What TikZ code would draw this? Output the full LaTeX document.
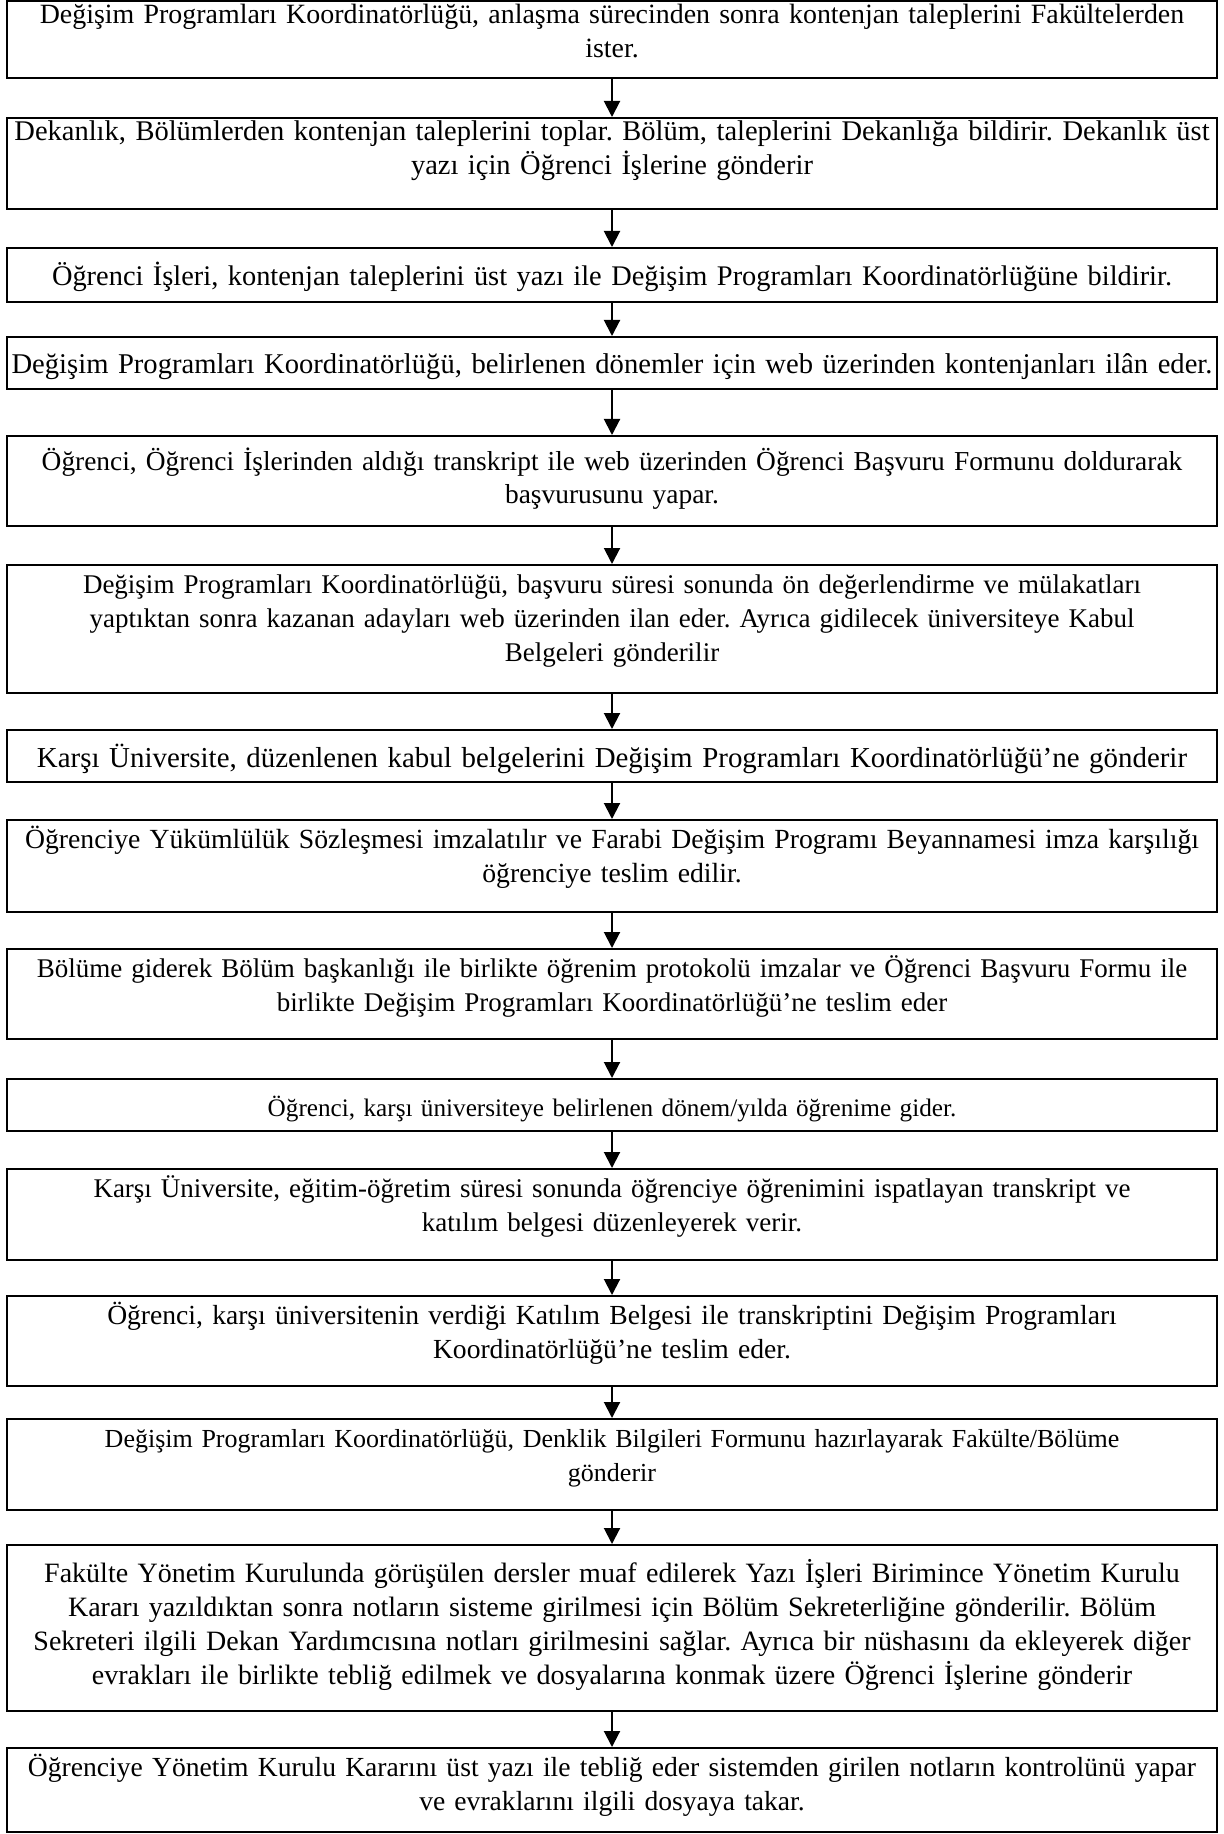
\documentclass[tikz,border=0pt]{standalone}
\usepackage{fontspec}
\setmainfont{Liberation Serif}
\usetikzlibrary{arrows.meta}
\frenchspacing
\tikzset{
  boxstyle/.style={draw=black, line width=1pt, rectangle, minimum width=605pt, inner sep=0pt, fill=white},
  txt/.style={anchor=base, text width=680pt, align=center, inner sep=0pt},
  arr/.style={line width=1pt, -{Triangle[length=8pt,width=8pt]}},
}
\newcommand\flowbox[6][13.9]{%
  \node[boxstyle, minimum height={(#4-#3)*0.5pt}] (#2) at (612,{(#3+#4)/2}) {};
  \node[txt, font=\fontsize{#1}{17}\selectfont] (#2t) at (612,#5) {#6};
}
\begin{document}
\begin{tikzpicture}[x=0.5pt,y=-0.5pt]
\useasboundingbox (0,0) rectangle (1223,1834);
\flowbox[13.95]{b1}{1}{78}{24}{Değişim Programları Koordinatörlüğü, anlaşma sürecinden sonra kontenjan taleplerini Fakültelerden\\ister.}
\flowbox[14.25]{b2}{118}{209}{141}{Dekanlık, Bölümlerden kontenjan taleplerini toplar. Bölüm, taleplerini Dekanlığa bildirir. Dekanlık üst\\yazı için Öğrenci İşlerine gönderir}
\flowbox[14.2]{b3}{248}{302}{286}{Öğrenci İşleri, kontenjan taleplerini üst yazı ile Değişim Programları Koordinatörlüğüne bildirir.}
\flowbox[14.3]{b4}{337}{389}{374}{Değişim Programları Koordinatörlüğü, belirlenen dönemler için web üzerinden kontenjanları ilân eder.}
\flowbox[13.7]{b5}{436}{526}{470}{Öğrenci, Öğrenci İşlerinden aldığı transkript ile web üzerinden Öğrenci Başvuru Formunu doldurarak\\başvurusunu yapar.}
\flowbox[13.5]{b6}{565}{693}{593}{Değişim Programları Koordinatörlüğü, başvuru süresi sonunda ön değerlendirme ve mülakatları\\yaptıktan sonra kazanan adayları web üzerinden ilan eder. Ayrıca gidilecek üniversiteye Kabul\\Belgeleri gönderilir}
\flowbox[14.45]{b7}{730}{782}{767}{Karşı Üniversite, düzenlenen kabul belgelerini Değişim Programları Koordinatörlüğü’ne gönderir}
\flowbox[13.85]{b8}{820}{912}{848}{Öğrenciye Yükümlülük Sözleşmesi imzalatılır ve Farabi Değişim Programı Beyannamesi imza karşılığı\\öğrenciye teslim edilir.}
\flowbox[13.5]{b9}{949}{1039}{977}{Bölüme giderek Bölüm başkanlığı ile birlikte öğrenim protokolü imzalar ve Öğrenci Başvuru Formu ile\\birlikte Değişim Programları Koordinatörlüğü’ne teslim eder}
\flowbox[12.6]{b10}{1079}{1131}{1116}{Öğrenci, karşı üniversiteye belirlenen dönem/yılda öğrenime gider.}
\flowbox[13.5]{b11}{1169}{1260}{1197}{Karşı Üniversite, eğitim-öğretim süresi sonunda öğrenciye öğrenimini ispatlayan transkript ve\\katılım belgesi düzenleyerek verir.}
\flowbox[13.8]{b12}{1296}{1386}{1324}{Öğrenci, karşı üniversitenin verdiği Katılım Belgesi ile transkriptini Değişim Programları\\Koordinatörlüğü’ne teslim eder.}
\flowbox[13.0]{b13}{1419}{1510}{1447}{Değişim Programları Koordinatörlüğü, Denklik Bilgileri Formunu hazırlayarak Fakülte/Bölüme\\gönderir}
\flowbox[14.0]{b14}{1545}{1711}{1582}{Fakülte Yönetim Kurulunda görüşülen dersler muaf edilerek Yazı İşleri Birimince Yönetim Kurulu\\Kararı yazıldıktan sonra notların sisteme girilmesi için Bölüm Sekreterliğine gönderilir. Bölüm\\Sekreteri ilgili Dekan Yardımcısına notları girilmesini sağlar. Ayrıca bir nüshasını da ekleyerek diğer\\evrakları ile birlikte tebliğ edilmek ve dosyalarına konmak üzere Öğrenci İşlerine gönderir}
\flowbox[13.8]{b15}{1748}{1832}{1776}{Öğrenciye Yönetim Kurulu Kararını üst yazı ile tebliğ eder sistemden girilen notların kontrolünü yapar\\ve evraklarını ilgili dosyaya takar.}
\foreach \a/\b in {b1/b2,b2/b3,b3/b4,b4/b5,b5/b6,b6/b7,b7/b8,b8/b9,b9/b10,b10/b11,b11/b12,b12/b13,b13/b14,b14/b15}
  \draw[arr] (\a.south) -- (\b.north);
\end{tikzpicture}
\end{document}
